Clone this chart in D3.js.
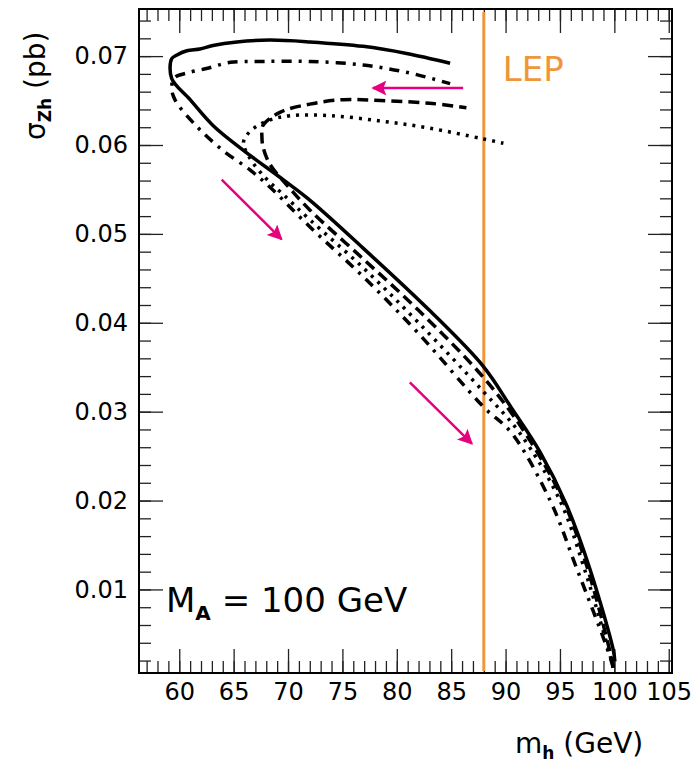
<!DOCTYPE html>
<html>
<head>
<meta charset="utf-8">
<script src="https://cdn.jsdelivr.net/npm/d3@7/dist/d3.min.js"></script>
<style>
  body { margin: 0; background: #fff; }
  text { font-family: "DejaVu Sans", sans-serif; fill: #000; }
</style>
</head>
<body>
<div id="chart"></div>
<script>
// ---- data ----
const xMajorTicks = [60, 65, 70, 75, 80, 85, 90, 95, 100, 105];
const yMajorTicks = [0.01, 0.02, 0.03, 0.04, 0.05, 0.06, 0.07];
const lepMass = 88;

// each curve runs from the high-mass end of the lower branch round the turn to the end of the upper branch
const solidMh = [100.05, 99.9, 97.7, 95.6, 93.15, 90.5, 87.95, 83.0, 76.9, 72.0, 69.55, 65.9, 63.1, 61.0, 59.3, 59.3, 59.75, 60.7, 61.9, 63.1, 65.3, 68.3, 72.0, 76.9, 80.9, 84.9];
const solidSigma = [0.0019, 0.0032, 0.0125, 0.0195, 0.0255, 0.0305, 0.0351, 0.0414, 0.0484, 0.0538, 0.0561, 0.0594, 0.0622, 0.0651, 0.0675, 0.0697, 0.0701, 0.0706, 0.0708, 0.0712, 0.0716, 0.0718, 0.0716, 0.0711, 0.0703, 0.0692];

const dashedMh = [99.9, 99.6, 97.5, 95.3, 91.8, 88.0, 82.0, 76.9, 72.0, 69.9, 68.3, 67.7, 67.6, 67.7, 69.3, 72.0, 75.1, 78.5, 83.0, 86.4];
const dashedSigma = [0.0012, 0.003, 0.0125, 0.020, 0.0276, 0.0338, 0.0414, 0.0472, 0.0527, 0.0555, 0.0579, 0.0598, 0.0609, 0.0622, 0.0637, 0.0646, 0.0651, 0.065, 0.0647, 0.0642];

const dottedMh = [99.9, 99.4, 97.2, 95.0, 91.3, 88.0, 82.0, 76.9, 72.0, 69.5, 68.0, 66.5, 65.9, 66.2, 67.1, 68.3, 70.2, 73.9, 78.5, 83.0, 87.9, 89.8];
const dottedSigma = [0.0012, 0.0035, 0.0125, 0.020, 0.0276, 0.0322, 0.0400, 0.0462, 0.0516, 0.0545, 0.0562, 0.0585, 0.0602, 0.0611, 0.0621, 0.0628, 0.0633, 0.0633, 0.0627, 0.0619, 0.0607, 0.0602];

const dotDashMh = [99.9, 99.3, 96.5, 94.1, 90.55, 88.0, 82.0, 76.9, 72.0, 68.3, 66.5, 64.0, 61.6, 59.6, 59.3, 59.6, 60.7, 62.5, 64.7, 67.7, 72.0, 76.9, 81.2, 84.9];
const dotDashSigma = [0.0012, 0.0035, 0.0125, 0.020, 0.0276, 0.0305, 0.0388, 0.0452, 0.0508, 0.0553, 0.0572, 0.0594, 0.0621, 0.0651, 0.0665, 0.0676, 0.0681, 0.0686, 0.0693, 0.0694, 0.0694, 0.069, 0.0681, 0.0669];

// arrows: [mh0, sigma0, mh1, sigma1]
const arrows = [
  [86.1, 0.0664, 77.8, 0.0664],
  [63.9, 0.0561, 69.4, 0.0494],
  [81.2, 0.0333, 86.9, 0.0264]
];

const width = 699, height = 764;
const frame = {left: 139, right: 672, top: 9, bottom: 673};

const svg = d3.select("#chart").append("svg")
    .attr("width", width)
    .attr("height", height);

const x = d3.scaleLinear().domain([56.3, 105.3]).range([frame.left, frame.right]);
const y = d3.scaleLinear().domain([0.0006, 0.0753]).range([frame.bottom, frame.top]);

// axes (ticks point inward)
const tickColor = "#222";
const styleAxis = g => {
    g.select(".domain").remove();
    g.selectAll(".tick line").attr("stroke", tickColor).attr("stroke-width", 1.3);
};

const xMinor = d3.range(57, 106, 1);
const yMinor = d3.range(0.002, 0.0753, 0.002);

svg.append("g")
    .attr("transform", `translate(0,${frame.bottom})`)
    .call(d3.axisBottom(x).tickValues(xMinor).tickSize(-12).tickFormat(""))
    .call(styleAxis);
svg.append("g")
    .attr("transform", `translate(0,${frame.bottom})`)
    .call(d3.axisBottom(x).tickValues(xMajorTicks).tickSize(-24).tickPadding(10).tickFormat(d3.format("d")))
    .call(styleAxis)
    .selectAll("text").attr("font-size", 24).attr("fill", "#000");

svg.append("g")
    .attr("transform", `translate(0,${frame.top})`)
    .call(d3.axisTop(x).tickValues(xMinor).tickSize(-12).tickFormat(""))
    .call(styleAxis);
svg.append("g")
    .attr("transform", `translate(0,${frame.top})`)
    .call(d3.axisTop(x).tickValues(xMajorTicks).tickSize(-24).tickFormat(""))
    .call(styleAxis);

svg.append("g")
    .attr("transform", `translate(${frame.left},0)`)
    .call(d3.axisLeft(y).tickValues(yMinor).tickSize(-12).tickFormat(""))
    .call(styleAxis);
svg.append("g")
    .attr("transform", `translate(${frame.left},0)`)
    .call(d3.axisLeft(y).tickValues(yMajorTicks).tickSize(-24).tickPadding(11).tickFormat(d3.format(".2f")))
    .call(styleAxis)
    .selectAll("text").attr("font-size", 24).attr("fill", "#000");

svg.append("g")
    .attr("transform", `translate(${frame.right},0)`)
    .call(d3.axisRight(y).tickValues(yMinor).tickSize(-12).tickFormat(""))
    .call(styleAxis);
svg.append("g")
    .attr("transform", `translate(${frame.right},0)`)
    .call(d3.axisRight(y).tickValues(yMajorTicks).tickSize(-24).tickFormat(""))
    .call(styleAxis);

// frame
svg.append("rect")
    .attr("x", frame.left).attr("y", frame.top)
    .attr("width", frame.right - frame.left)
    .attr("height", frame.bottom - frame.top)
    .attr("fill", "none")
    .attr("stroke", "#000")
    .attr("stroke-width", 2);

// LEP line
svg.append("line")
    .attr("x1", x(lepMass)).attr("x2", x(lepMass))
    .attr("y1", frame.top + 3).attr("y2", frame.bottom - 2)
    .attr("stroke", "#f0963a")
    .attr("stroke-width", 3);

svg.append("text")
    .attr("x", x(lepMass) + 19)
    .attr("y", 81)
    .attr("font-size", 34)
    .style("fill", "#f0963a")
    .text("LEP");

// curves
const line = d3.line()
    .x(d => x(d[0]))
    .y(d => y(d[1]))
    .curve(d3.curveCatmullRom.alpha(0.5));

const series = [
    {mh: solidMh, sigma: solidSigma, dash: null},
    {mh: dashedMh, sigma: dashedSigma, dash: "11,6"},
    {mh: dotDashMh, sigma: dotDashSigma, dash: "10,7,3,7"},
    {mh: dottedMh, sigma: dottedSigma, dash: "3,6"}
];

svg.append("g").selectAll("path")
    .data(series)
    .join("path")
    .attr("d", s => line(d3.zip(s.mh, s.sigma)))
    .attr("fill", "none")
    .attr("stroke", "#000")
    .attr("stroke-width", 3.5)
    .attr("stroke-dasharray", s => s.dash);

// arrows
const pink = "#e6007e";
svg.append("defs").append("marker")
    .attr("id", "head")
    .attr("viewBox", "0 0 10 10")
    .attr("refX", 9).attr("refY", 5)
    .attr("markerWidth", 7).attr("markerHeight", 6)
    .attr("markerUnits", "strokeWidth")
    .attr("orient", "auto")
    .append("path")
    .attr("d", "M0,0 L10,5 L0,10 L2,5 Z")
    .attr("fill", pink);

svg.append("g").selectAll("line")
    .data(arrows)
    .join("line")
    .attr("x1", d => x(d[0])).attr("y1", d => y(d[1]))
    .attr("x2", d => x(d[2])).attr("y2", d => y(d[3]))
    .attr("stroke", pink)
    .attr("stroke-width", 2.5)
    .attr("marker-end", "url(#head)");

// annotation
const ann = svg.append("text")
    .attr("x", 166)
    .attr("y", 612)
    .attr("font-size", 34);
ann.append("tspan").text("M");
ann.append("tspan").attr("font-size", 20).attr("font-weight", "bold").attr("dy", 8).text("A");
ann.append("tspan").attr("dy", -8).text(" = 100 GeV");

// axis titles
const xt = svg.append("text")
    .attr("x", 515)
    .attr("y", 753)
    .attr("font-size", 28);
xt.append("tspan").text("m");
xt.append("tspan").attr("font-size", 17).attr("font-weight", "bold").attr("dy", 6).text("h");
xt.append("tspan").attr("dy", -6).text(" (GeV)");

const yt = svg.append("text")
    .attr("transform", "translate(45,140) rotate(-90)")
    .attr("font-size", 28);
yt.append("tspan").text("σ");
yt.append("tspan").attr("font-size", 17).attr("font-weight", "bold").attr("dy", 6).text("Zh");
yt.append("tspan").attr("dy", -6).text(" (pb)");
</script>
</body>
</html>
